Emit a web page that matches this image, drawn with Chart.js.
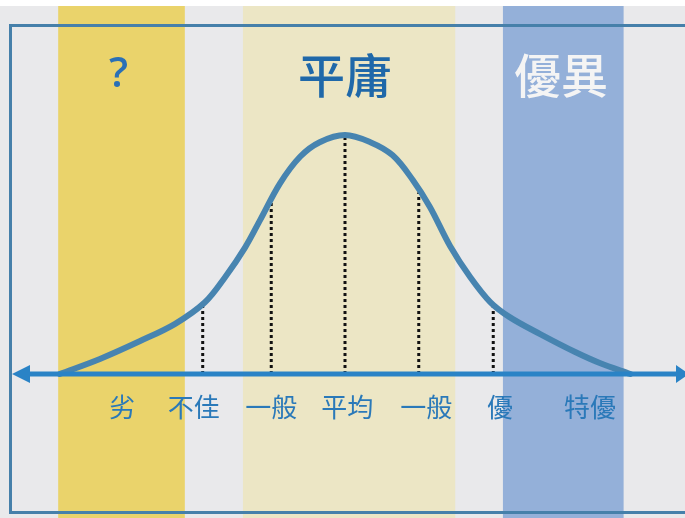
<!DOCTYPE html>
<html>
<head>
<meta charset="utf-8">
<script src="https://cdn.jsdelivr.net/npm/chart.js@4/dist/chart.umd.min.js"></script>
<style>
html,body{margin:0;padding:0;background:#ffffff;}
canvas{display:block;}
</style>
</head>
<body>
<canvas id="c" width="685" height="518"></canvas>
<script>
// Bell curve (x in standard-score units, y relative height)
const curveX = [-3.83,-3.29,-2.75,-2.28,-1.88,-1.61,-1.34,-1.14,-0.87,-0.60,-0.34,0,0.34,0.64,0.91,1.14,1.41,1.68,1.95,2.21,2.62,3.09,3.42,3.83];
const curveY = [0.00,0.063,0.138,0.21,0.30,0.405,0.53,0.644,0.799,0.91,0.97,1.00,0.97,0.915,0.812,0.699,0.536,0.406,0.301,0.238,0.167,0.092,0.046,0.00];

// Dotted drop lines
const dropX = [-1.91,-0.99,0,0.99,1.99];
const dropTop = [0.29,0.72,0.99,0.76,0.28];

// Category labels under the axis
const catLabels = ['劣','不佳','一般','平均','一般','優','特優'];
const catPos = [-2.99,-2.03,-0.99,0.03,1.09,2.08,3.29];

// Shaded bands [start, end]
const bandNames = ['?','平庸','優異'];
const bandStart = [-3.85,-1.37,2.12];
const bandEnd = [-2.15,1.48,3.74];
const bandTitlePos = [-3.04,0,2.90];

const bandFill = ['#ead36b','#ece6c5','#94b0d9'];
const bandTitleColor = ['#2a70b6','#1f68a9','#f4f4f4'];

const bgPlugin = {
  id:'bg',
  beforeDraw(chart){
    const {ctx, scales:{x,y}} = chart;
    const W = chart.width, H = chart.height;
    ctx.save();
    ctx.fillStyle = '#ffffff';
    ctx.fillRect(0,0,W,H);
    ctx.fillStyle = '#e9e9eb';
    ctx.fillRect(0,6,W,H-6);
    for(let i=0;i<bandStart.length;i++){
      const a = x.getPixelForValue(bandStart[i]);
      const b = x.getPixelForValue(bandEnd[i]);
      ctx.fillStyle = bandFill[i];
      ctx.fillRect(a,6,b-a,H-6);
    }
    // frame
    ctx.strokeStyle = '#4680aa';
    ctx.lineWidth = 3;
    ctx.strokeRect(10.5,25.5,700,487);
    // band titles
    ctx.textAlign='center';
    ctx.textBaseline='middle';
    for(let i=0;i<bandNames.length;i++){
      ctx.fillStyle = bandTitleColor[i];
      ctx.font = (i===0 ? '600 42px "Open Sans", "Noto Sans"' : '500 47px "Noto Sans CJK TC"');
      ctx.fillText(bandNames[i], x.getPixelForValue(bandTitlePos[i]), 75);
    }
    ctx.restore();
  },
  afterDatasetsDraw(chart){
    const {ctx, scales:{x,y}} = chart;
    const y0 = y.getPixelForValue(0);
    const W = chart.width;
    ctx.save();
    ctx.strokeStyle = '#2a83c6';
    ctx.fillStyle = '#2a83c6';
    ctx.lineWidth = 5;
    ctx.beginPath();
    ctx.moveTo(20,y0);
    ctx.lineTo(W-6,y0);
    ctx.stroke();
    // left arrow
    ctx.beginPath();
    ctx.moveTo(12,y0);
    ctx.lineTo(30,y0-9);
    ctx.lineTo(30,y0+9);
    ctx.closePath();
    ctx.fill();
    // right arrow
    ctx.beginPath();
    ctx.moveTo(W+4,y0);
    ctx.lineTo(W-9,y0-9);
    ctx.lineTo(W-9,y0+9);
    ctx.closePath();
    ctx.fill();
    // labels
    ctx.fillStyle = '#2a79b9';
    ctx.font = '26px "Noto Sans CJK TC"';
    ctx.textAlign='center';
    ctx.textBaseline='middle';
    for(let i=0;i<catLabels.length;i++){
      ctx.fillText(catLabels[i], x.getPixelForValue(catPos[i]), 407);
    }
    ctx.restore();
  }
};

const datasets = [];
dropX.forEach((dx,i)=>{
  datasets.push({
    data:[{x:dx,y:0},{x:dx,y:dropTop[i]}],
    borderColor:'#111111',
    borderWidth:3,
    borderDash:[3,3],
    pointRadius:0,
    fill:false,
    order:2
  });
});
datasets.push({
  data: curveX.map((v,i)=>({x:v,y:curveY[i]})),
  borderColor:'#4784b0',
  borderWidth:6,
  pointRadius:0,
  fill:false,
  tension:0.35,
  borderCapStyle:'round',
  order:1
});

new Chart(document.getElementById('c'),{
  type:'line',
  data:{datasets},
  options:{
    responsive:false,
    animation:false,
    devicePixelRatio:1,
    layout:{padding:0},
    plugins:{legend:{display:false},tooltip:{enabled:false}},
    scales:{
      x:{type:'linear',min:-4.631,max:4.564,display:false},
      y:{type:'linear',min:-0.6025,max:1.565,display:false}
    }
  },
  plugins:[bgPlugin]
});
</script>
</body>
</html>
